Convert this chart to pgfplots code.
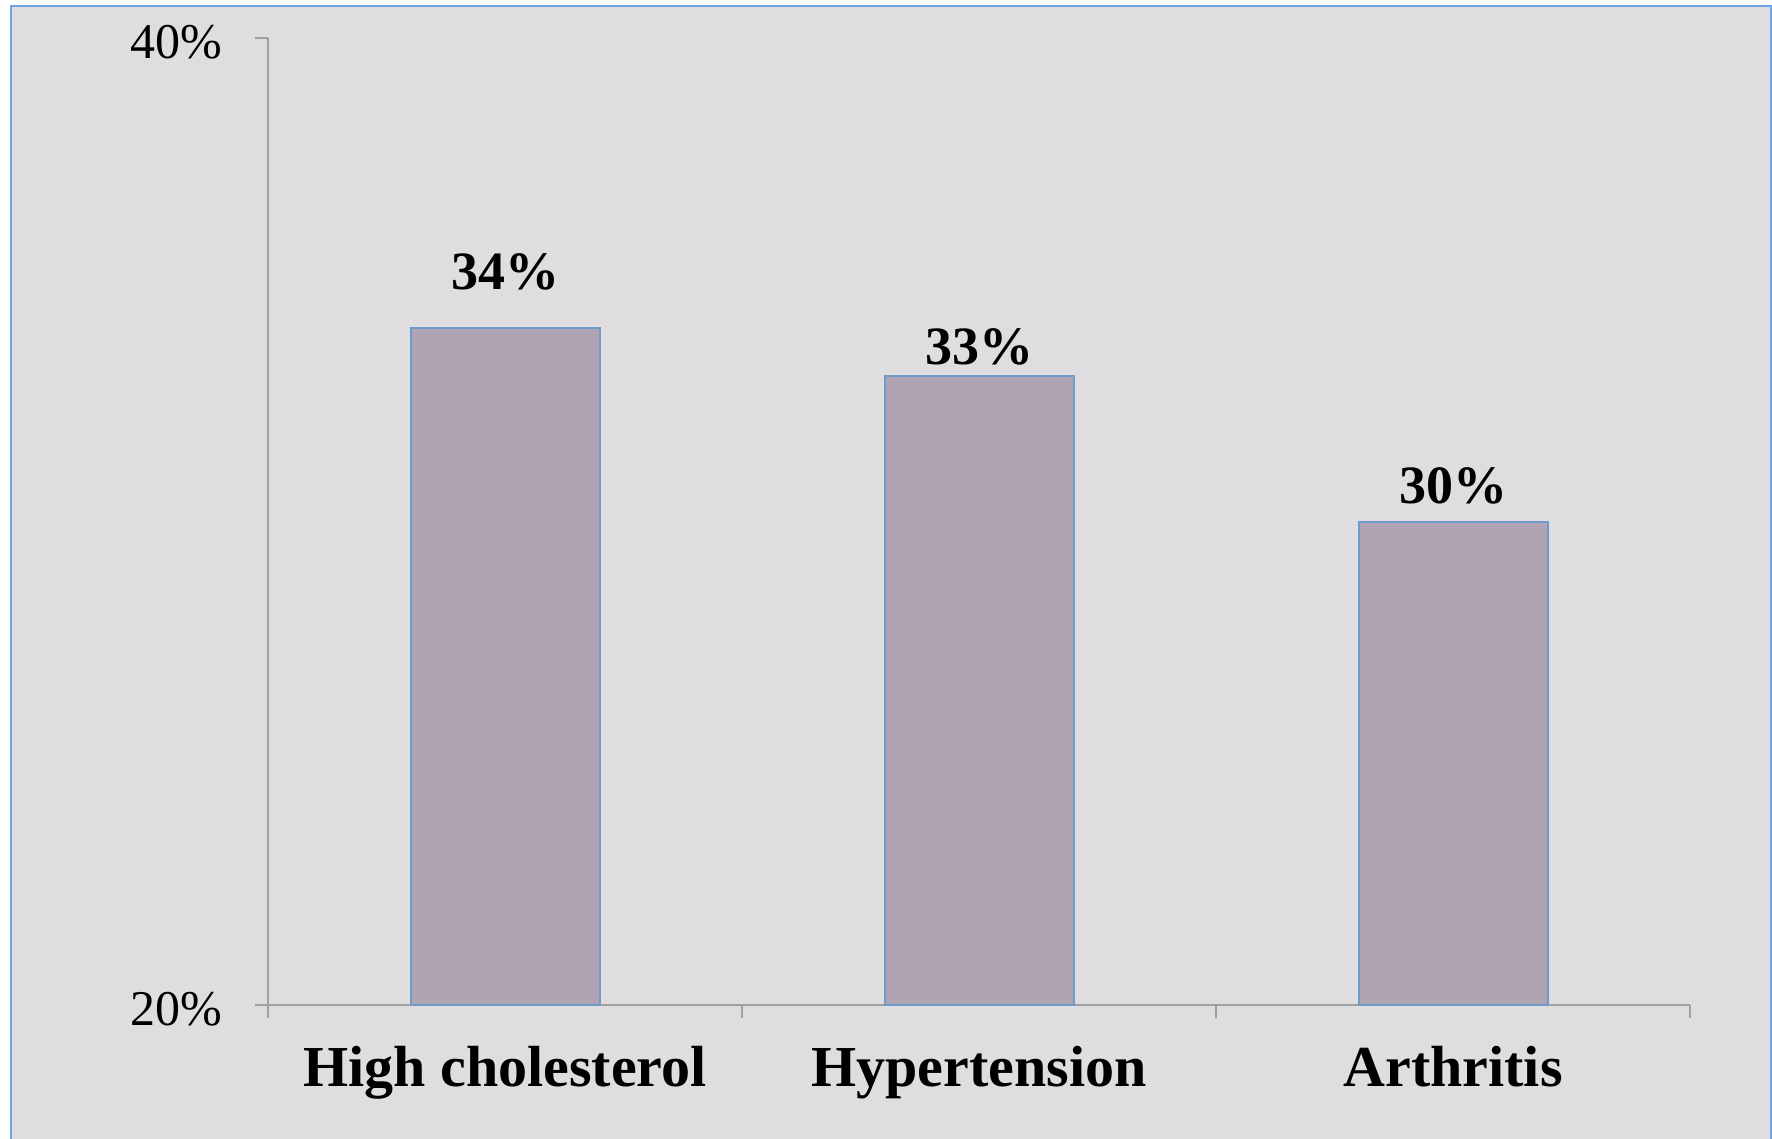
\documentclass[border=0pt]{standalone}
\usepackage{pgfplots}
\pgfplotsset{compat=1.18}
\usepackage{fontspec}
\setmainfont{Liberation Serif}
\definecolor{bgc}{HTML}{DFDDE0}
\definecolor{framec}{HTML}{6CA6E8}
\definecolor{barc}{HTML}{B0A3B3}
\definecolor{baredge}{HTML}{6E9BC7}
\definecolor{axc}{HTML}{A0A0A0}
\begin{document}
\begin{tikzpicture}
\path[use as bounding box] (-67pt,-33.25pt) rectangle (376pt,251.25pt);
\fill[white] (-67pt,-33.25pt) rectangle (376pt,251.25pt);
\fill[bgc] (-64.25pt,-40pt) rectangle (375.75pt,249.75pt);
\draw[framec, line width=0.6pt] (-64.25pt,-40pt) -- (-64.25pt,249.75pt) -- (375.75pt,249.75pt) -- (375.75pt,-40pt);
\begin{axis}[
  at={(0,0)}, anchor=south west,
  scale only axis, width=355.5pt, height=241.75pt,
  xmin=-0.5, xmax=2.5, ymin=20, ymax=40,
  axis x line*=bottom, axis y line*=left,
  axis line style={axc, line width=0.6pt},
  xtick={-0.5,0.5,1.5,2.5},
  xticklabels={},
  extra x ticks={0,1,2},
  extra x tick labels={High cholesterol,Hypertension,Arthritis},
  extra x tick style={major tick length=0pt, tick style={draw=none},
    xticklabel style={font=\fontsize{14.5}{16}\selectfont\bfseries, anchor=base, yshift=-20.3pt}},
  ytick={20,40},
  yticklabels={20\%,40\%},
  yticklabel style={font=\fontsize{12.5}{14}\selectfont, anchor=east, inner sep=0pt, xshift=-8pt, yshift=-1pt},
  tick align=outside,
  major tick length=3.3pt,
  tick style={axc, line width=0.6pt},
  ybar, bar width=47.25pt,
  point meta=explicit,
  /pgf/number format/assume math mode=true,
  nodes near coords={\pgfmathprintnumber{\pgfplotspointmeta}\%},
  visualization depends on={\thisrow{off} \as \off},
  every node near coord/.append style={font=\fontsize{13.5}{15}\selectfont\bfseries, anchor=center, yshift=\off pt},
  clip=false,
]
\addplot[fill=barc, draw=baredge, line width=0.5pt] table[x=x, y=y, meta=y] {
x y off
0 34 14
1 33 7.5
2 30 9
};
\end{axis}
\end{tikzpicture}
\end{document}
